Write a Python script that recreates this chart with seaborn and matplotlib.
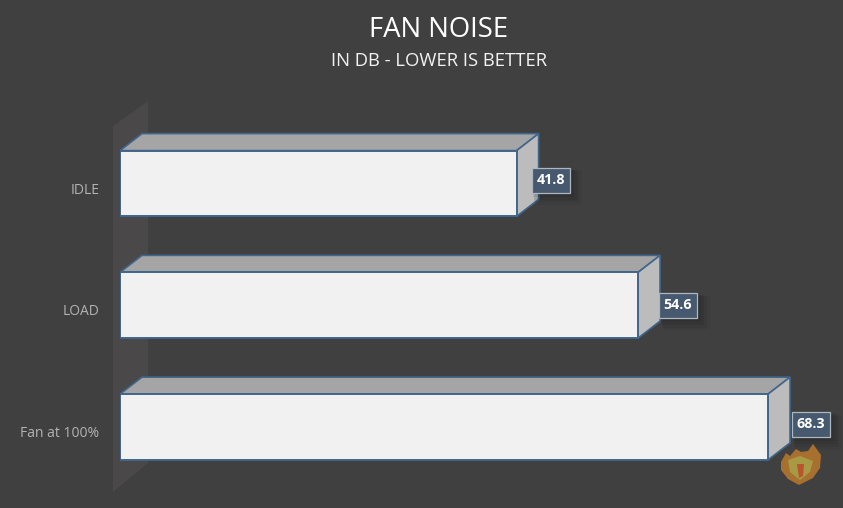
import matplotlib
matplotlib.use("Agg")
import matplotlib.pyplot as plt
from matplotlib.patches import Polygon, Rectangle
from matplotlib.transforms import ScaledTranslation
import pandas as pd
import seaborn as sns

categories = ["IDLE", "LOAD", "Fan at 100%"]
values = [41.8, 54.6, 68.3]
title = "FAN NOISE"
subtitle = "IN DB - LOWER IS BETTER"

W, H = 843, 508
BG = "#404040"
sns.set_theme(style="white")
plt.rcParams["font.family"] = ["Open Sans", "DejaVu Sans"]

fig = plt.figure(figsize=(W / 100, H / 100), dpi=100, facecolor=BG)
L, R, T, B = 120, 843, 100, 490
ax = fig.add_axes([L / W, 1 - B / H, (R - L) / W, (B - T) / H], facecolor="none")


def fx(px):
    return px / W


def fy(py):
    return 1 - py / H


# back wall of the 3D chart
fig.add_artist(Polygon([(fx(113), fy(126)), (fx(148), fy(101)), (fx(148), fy(463)), (fx(113), fy(492))],
                       closed=True, transform=fig.transFigure, fc="#4a4848", ec="none", zorder=0))

df = pd.DataFrame({"cat": categories, "val": values})
sns.barplot(data=df, y="cat", x="val", orient="h", width=0.54, color="#f1f1f1",
            saturation=1, ax=ax, zorder=3)

px_per_unit = 9.488
row_px = 121.75
ax.set_xlim(0, (R - L) / px_per_unit)
ax.set_ylim((B - 183.5) / row_px, (T - 183.5) / row_px)

dx = 22 / px_per_unit
dy = -17 / row_px
EDGE = "#41668c"
label_off = [(34, -3.5), (40, 0), (42.5, -2.5)]

for i, (patch, v) in enumerate(zip(ax.patches, values)):
    patch.set_edgecolor(EDGE)
    patch.set_linewidth(1.4)
    y0, y1 = patch.get_y(), patch.get_y() + patch.get_height()
    ax.add_patch(Polygon([(0, y0), (dx, y0 + dy), (v + dx, y0 + dy), (v, y0)], closed=True,
                         fc="#a5a5a5", ec=EDGE, lw=1.2, zorder=2, clip_on=False))
    ax.add_patch(Polygon([(v, y0), (v + dx, y0 + dy), (v + dx, y1 + dy), (v, y1)], closed=True,
                         fc="#bcbcbc", ec=EDGE, lw=1.2, zorder=2, clip_on=False))
    ox, oy = label_off[i]
    cx = v + ox / px_per_unit
    cy = i + oy / row_px
    hw, hh = 19 / px_per_unit, 12.5 / row_px
    for k, a in [(9, 0.04), (7, 0.05), (5, 0.06), (3, 0.07)]:
        ax.add_patch(Rectangle((cx - hw + k * 0.4 / px_per_unit, cy - hh + k * 0.4 / row_px),
                               2 * hw + k / px_per_unit, 2 * hh + k / row_px,
                               fc="black", ec="none", alpha=a, zorder=4, clip_on=False))
    ax.add_patch(Rectangle((cx - hw, cy - hh), 2 * hw, 2 * hh, fc="#46596f", ec="#aeb6be",
                           lw=0.9, zorder=5, clip_on=False))
    ax.text(cx, cy, f"{v:.1f}", ha="center", va="center", color="white", fontsize=10.3,
            fontweight="bold", zorder=6)

ax.set_xlabel("")
ax.set_ylabel("")
ax.set_xticks([])
ax.tick_params(axis="y", length=0, pad=15, labelsize=10, labelcolor="#b3b3b3")
shift = ScaledTranslation(0, -4.5 / 100, fig.dpi_scale_trans)
for lab in ax.get_yticklabels():
    lab.set_transform(lab.get_transform() + shift)
sns.despine(ax=ax, left=True, bottom=True, right=True, top=True)

fig.text(fx(439), fy(30), title, ha="center", va="center", color="white", fontsize=19.8)
fig.text(fx(439.5), fy(61.5), subtitle, ha="center", va="center", color="#f2f2f2", fontsize=13.3)

# small flame-shaped watermark
fig.add_artist(Polygon([(fx(x), fy(y)) for x, y in
                        [(781, 462), (786, 453), (790, 456), (796, 449), (801, 452), (808, 451), (813, 444),
                         (821, 455), (820, 468), (813, 478), (799, 485), (788, 479), (781, 470)]],
                       closed=True, transform=fig.transFigure, fc="#a8702f", ec="none", zorder=1))
fig.add_artist(Polygon([(fx(x), fy(y)) for x, y in
                        [(788, 460), (800, 456), (813, 461), (810, 472), (800, 480), (790, 472)]],
                       closed=True, transform=fig.transFigure, fc="#a89a45", ec="none", zorder=1))
fig.add_artist(Polygon([(fx(x), fy(y)) for x, y in
                        [(797, 464), (804, 464), (803, 476), (799, 478)]],
                       closed=True, transform=fig.transFigure, fc="#b8552c", ec="none", zorder=1))

fig.savefig("out.png", dpi=100, facecolor=BG)
